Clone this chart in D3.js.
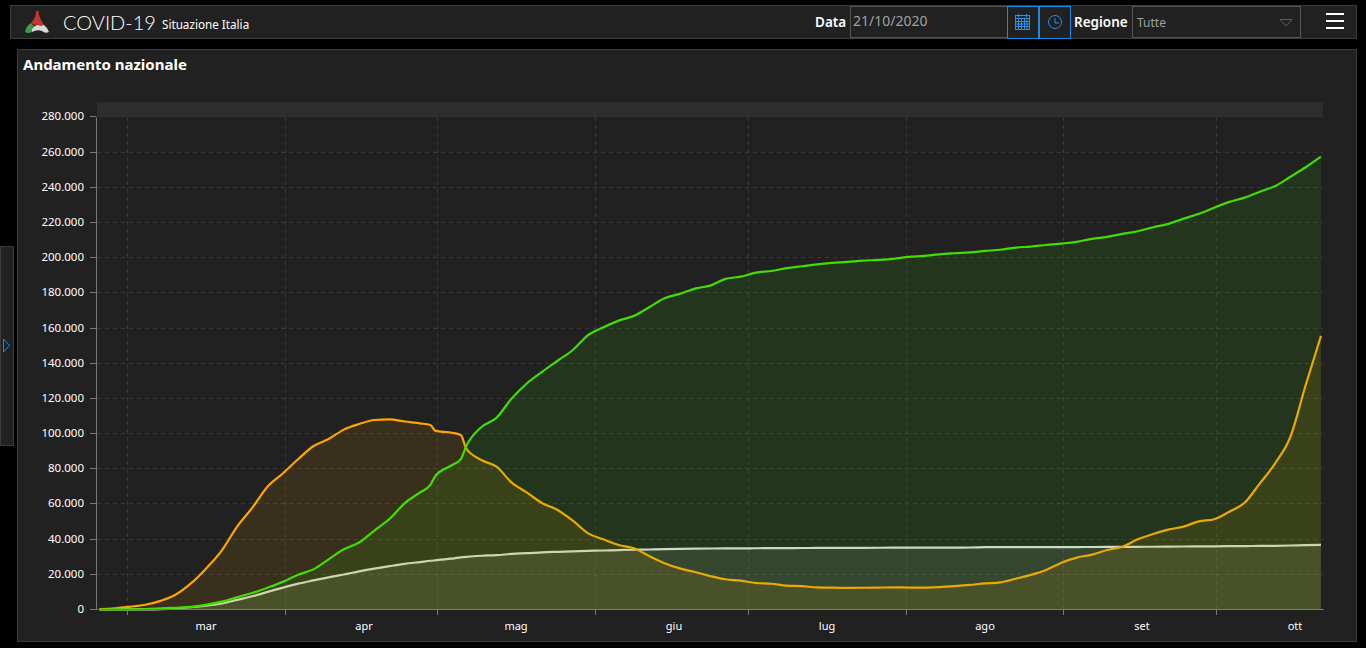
<!DOCTYPE html>
<html>
<head>
<meta charset="utf-8">
<script src="https://cdn.jsdelivr.net/npm/d3@7"></script>
<style>
  html, body { margin: 0; padding: 0; background: #000; overflow: hidden; }
  svg { display: block; }
  text { font-family: "Noto Sans", sans-serif; fill: #fff; }
</style>
</head>
<body>
<div id="chart"></div>
<script>
// giorni dal 24 febbraio 2020
var giorni = [0,3,6,9,12,15,18,21,24,27,30,33,36,39,42,45,48,51,54,57,60,63,65,66,69,71,72,
  75,78,81,84,87,90,93,96,99,102,105,108,111,114,117,120,123,126,129,132,135,138,141,144,147,
  150,153,156,159,162,165,168,171,174,177,180,183,186,189,192,195,198,201,204,207,210,213,216,
  219,222,225,228,231,234,237,240];

var positivi = [220,650,1580,2700,4900,8500,14950,23500,33500,47000,57800,69800,77300,85400,92800,96900,102250,105400,107700,108100,106850,105800,
  104900,101500,100600,99200,91800,
  85000,81200,72100,66400,60400,56600,50500,43300,39900,36700,
  34800,30400,26300,23400,21300,19000,17200,16400,15050,14650,
  13550,13250,12600,12400,12300,12350,12450,12600,12450,12450,
  12750,13300,14000,14800,15400,17500,19700,22500,26600,29500,
  31200,33800,35700,39900,42900,45400,47100,50100,51300,55600,
  60700,71700,83100,98200,127600,155500];

var guariti = [10,50,90,280,590,1000,1450,2750,4440,7000,9400,12400,15700,19750,22800,28500,34200,38100,44900,51600,60500,66600,
  70800,75900,81700,85500,92600,
  103600,109000,120000,128600,135200,141400,147500,156000,160400,164200,
  166900,171800,176900,179400,182400,184100,187900,189200,191500,192400,
  194000,195100,196200,197000,197600,198300,198700,199300,200400,201000,
  201900,202500,203000,203800,204500,205700,206300,207200,208000,209000,
  210700,211800,213500,215000,217300,219200,222200,224900,228400,231700,
  234100,237500,240700,246000,251400,257400];

var deceduti = [7,17,34,79,233,630,1270,2160,3400,5480,7500,10000,12430,14680,16520,18280,19900,21650,23230,24650,25970,26980,
  27700,27970,28880,29680,29960,
  30560,30910,31610,32010,32490,32790,33070,33340,33530,33770,
  33960,34110,34350,34450,34560,34680,34710,34740,34820,34860,
  34900,34950,34980,35030,35060,35080,35110,35130,35150,35170,
  35190,35210,35230,35400,35420,35430,35450,35460,35480,35510,
  35540,35600,35610,35650,35670,35720,35800,35840,35890,35970,
  36030,36170,36220,36370,36540,36700];

var mesi = ["mar","apr","mag","giu","lug","ago","set","ott"];
var yTicks = d3.range(0, 280001, 20000);

var W = 1366, H = 648;
var svg = d3.select("#chart").append("svg").attr("width", W).attr("height", H);

function box(x, y, w, h, fill, stroke) {
  return svg.append("rect")
    .attr("x", x + 0.5).attr("y", y + 0.5)
    .attr("width", w).attr("height", h)
    .attr("fill", fill).attr("stroke", stroke);
}

// header and panels
box(10, 5, 1346, 33, "#212121", "#3c3c3c");
box(17, 49, 1339, 592, "#212121", "#3c3c3c");
box(0, 246, 13, 199, "#212121", "#3c3c3c");

// logo
var logo = svg.append("g").attr("transform", "translate(25,11)");
logo.append("path").attr("d", "M11 0 L13.5 0 Q14 7 19 14 L14 15 Q12 13 10 14 L6 12 Q11 7 11 0Z").attr("fill", "#c8332f");
logo.append("path").attr("d", "M0 21 Q1 15 6 12 L9 15 Q6 17 7 21 Q3 23 0 21Z").attr("fill", "#3f9a4a");
logo.append("path").attr("d", "M7 21 Q6 17 10 15 Q13 13 15 15 L19 14 Q23 17 24 21 Q20 23 17 20 Q12 18 7 21Z").attr("fill", "#d9d9d9");

svg.append("text").attr("x", 63).attr("y", 30)
  .style("font-family", "Lato").attr("font-size", 20).attr("font-weight", 300).text("COVID-19");
svg.append("text").attr("x", 162).attr("y", 29).attr("font-size", 11.7).text("Situazione Italia");

svg.append("text").attr("x", 815).attr("y", 27).attr("font-size", 13.5).attr("font-weight", 600).text("Data");
box(850, 6, 157, 31, "#212121", "#555");
svg.append("text").attr("x", 853).attr("y", 26).attr("font-size", 14).style("fill", "#a0a0a0").text("21/10/2020");

box(1007, 6, 31, 32, "#212121", "#1e88e5");
box(1039, 6, 31, 32, "#212121", "#1e88e5");

// calendar icon
var cal = svg.append("g").attr("transform", "translate(1015,14)").attr("stroke", "#2a8fe8").attr("fill", "none");
cal.append("rect").attr("x", 0.5).attr("y", 1.5).attr("width", 14).attr("height", 14);
cal.append("path").attr("d", "M0 4.5H15M0 7.5H15M0 10H15M0 12.5H15M3.5 5V15M6.5 5V15M9.5 5V15M12 5V15M3.5 0V3M11.5 0V3");

// clock icon
var clk = svg.append("g").attr("transform", "translate(1055,22)").attr("stroke", "#2a8fe8").attr("fill", "none");
clk.append("circle").attr("r", 6.5);
clk.append("path").attr("d", "M0 -4V1H4");

svg.append("text").attr("x", 1074).attr("y", 27).attr("font-size", 13.5).attr("font-weight", 600).text("Regione");
box(1132, 6, 168, 31, "#212121", "#555");
svg.append("text").attr("x", 1137).attr("y", 27).attr("font-size", 12).style("fill", "#a0a0a0").text("Tutte");
svg.append("path").attr("d", "M1280 19.5H1292L1286 26Z").attr("fill", "none").attr("stroke", "#5e5e5e");

svg.append("g").attr("fill", "#fff").selectAll("rect").data([13, 20, 27]).join("rect")
  .attr("x", 1326).attr("y", function (d) { return d; }).attr("width", 18).attr("height", 2);

svg.append("path").attr("d", "M3.5 339V352L9.5 345.5Z").attr("fill", "none").attr("stroke", "#1e88e5");

svg.append("text").attr("x", 23).attr("y", 70).attr("font-size", 15).attr("font-weight", 700).text("Andamento nazionale");

// scales
var start = new Date(Date.UTC(2020, 1, 24));
var x = d3.scaleUtc().domain([start, new Date(Date.UTC(2020, 9, 22))]).range([97, 1323.5]);
var y = d3.scaleLinear().domain([0, 280000]).range([609.5, 116.9]);
var itLocale = d3.formatLocale({ decimal: ",", thousands: ".", grouping: [3], currency: ["€", ""] });

// points sit in the middle of the day cell
function xDay(g) {
  return x(new Date(start.getTime() + (g + 0.5) * 864e5));
}
function snap(v) { return Math.floor(v) + 0.5; }

var monthStarts = d3.range(2, 10).map(function (m) { return new Date(Date.UTC(2020, m, 1)); });
var monthMids = d3.range(2, 10).map(function (m) { return new Date(Date.UTC(2020, m, 16, 12)); });

// top band
svg.append("rect").attr("x", 97).attr("y", 102).attr("width", 1226).attr("height", 15).attr("fill", "#2d2d2d");

// grid
svg.append("g").selectAll("line").data(yTicks.slice(1)).join("line")
  .attr("x1", 97).attr("x2", 1323)
  .attr("y1", function (d) { return snap(y(d)); })
  .attr("y2", function (d) { return snap(y(d)); })
  .attr("stroke", "#383838").attr("stroke-dasharray", "4,4");
svg.append("g").selectAll("line").data(monthStarts).join("line")
  .attr("x1", function (d) { return snap(x(d)); })
  .attr("x2", function (d) { return snap(x(d)); })
  .attr("y1", 117).attr("y2", 609)
  .attr("stroke", "#383838").attr("stroke-dasharray", "4,4");

// series: grey first, green last so its fill tints the lines below
var series = [
  { values: deceduti, color: "#dcdcdc", alpha: 0.11 },
  { values: positivi, color: "#ffa500", alpha: 0.11 },
  { values: guariti, color: "#44dd00", alpha: 0.11 }
];

var area = d3.area()
  .x(function (d) { return xDay(d.g); })
  .y0(y(0))
  .y1(function (d) { return y(d.v); })
  .curve(d3.curveMonotoneX);
var line = d3.line()
  .x(function (d) { return xDay(d.g); })
  .y(function (d) { return y(d.v); })
  .curve(d3.curveMonotoneX);

series.forEach(function (s) {
  var pts = giorni.map(function (g, i) { return { g: g, v: s.values[i] }; });
  svg.append("path").datum(pts).attr("d", area).attr("fill", s.color).attr("fill-opacity", s.alpha);
  svg.append("path").datum(pts).attr("d", line).attr("fill", "none").attr("stroke", s.color)
    .attr("stroke-width", 2.2).attr("stroke-linejoin", "round");
});

// axes
var yAxis = svg.append("g").attr("transform", "translate(96,0)")
  .call(d3.axisLeft(y).tickValues(yTicks).tickSize(6).tickSizeOuter(0).tickPadding(6)
    .tickFormat(itLocale.format(",d")));
var xTicks = svg.append("g").attr("transform", "translate(0,609)")
  .call(d3.axisBottom(x).tickValues(monthStarts).tickSize(6).tickSizeOuter(0).tickFormat(""));
var xLabels = svg.append("g").attr("transform", "translate(0,609)")
  .call(d3.axisBottom(x).tickValues(monthMids).tickSize(0).tickPadding(13)
    .tickFormat(function (d, i) { return mesi[i]; }));
xLabels.select(".domain").remove();

// keep ticks on whole pixels
yAxis.selectAll(".tick").attr("transform", function (d) { return "translate(0," + snap(y(d)) + ")"; });
xTicks.selectAll(".tick").attr("transform", function (d) { return "translate(" + snap(x(d)) + ",0)"; });
xLabels.selectAll(".tick").attr("transform", function (d) { return "translate(" + Math.floor(x(d)) + ",0)"; });

[yAxis, xTicks].forEach(function (a) {
  a.selectAll(".domain").attr("stroke", "#7a7a7a");
  a.selectAll(".tick line").attr("stroke", "#7a7a7a");
});
yAxis.selectAll("text").attr("font-size", 11.5).style("font-family", '"Noto Sans"');
xLabels.selectAll("text").attr("font-size", 11).style("font-family", '"Noto Sans"');
</script>
</body>
</html>
